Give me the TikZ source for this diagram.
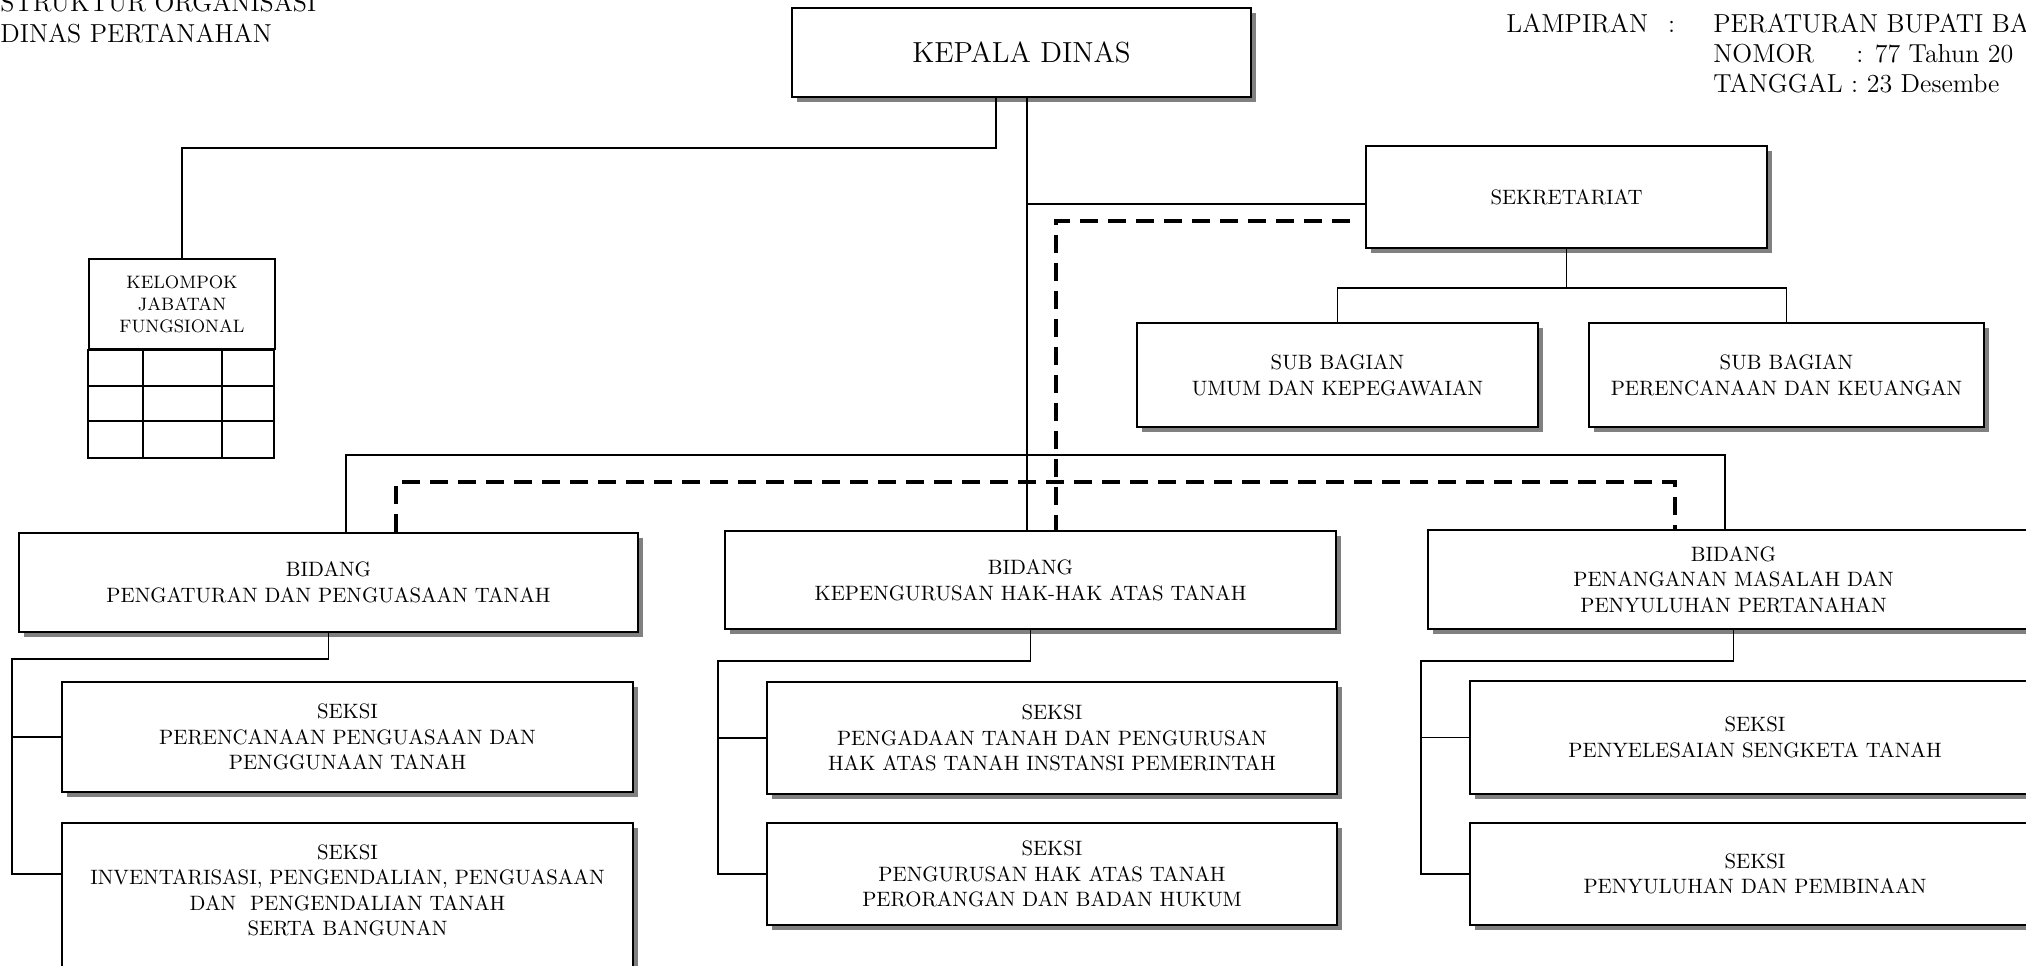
\documentclass[tikz,border=0pt]{standalone}
\usepackage{fontspec}
\usetikzlibrary{shadows}

\begin{document}
\begin{tikzpicture}[x=0.5pt,y=-0.5pt,
  unit/.style={draw,line width=1.1pt,fill=white,align=center,inner sep=2pt,
    font=\fontsize{10.4}{12.8}\selectfont,
    drop shadow={shadow xshift=2.5pt,shadow yshift=-2.5pt,fill=black!50,opacity=1}},
  link/.style={line width=0.9pt},
  koord/.style={line width=1.8pt,dash pattern=on 9pt off 5pt},
  head/.style={anchor=base west,inner sep=0pt,font=\fontsize{13}{15}\selectfont}]
\useasboundingbox (0,0) rectangle (2026,965);

\node[head] (judul1) at (0,11) {STRUKTUR ORGANISASI};
\node[head] (judul2) at (0,42) {DINAS PERTANAHAN};
\node[head] (lamp) at (1506,32) {LAMPIRAN\hspace{10pt}:};
\node[head] (perbup) at (1713,32) {PERATURAN BUPATI BA};
\node[head] (nomor) at (1713,62) {NOMOR};
\node[head] (nomor2) at (1856,62) {: 77 Tahun 20};
\node[head] (tgl) at (1713,92) {TANGGAL : 23 Desembe};

\node[unit,minimum width=229.5pt,minimum height=44.5pt,font=\fontsize{14.5}{17}\selectfont] (kd) at (1021.5,52.5) {KEPALA DINAS};
\node[unit,minimum width=200.5pt,minimum height=51pt] (sek) at (1566.5,197) {SEKRETARIAT};
\node[unit,minimum width=200.5pt,minimum height=52pt] (sbu) at (1337.5,375) {SUB BAGIAN\\UMUM DAN KEPEGAWAIAN};
\node[unit,minimum width=197.5pt,minimum height=52pt] (sbp) at (1786.5,375) {SUB BAGIAN\\PERENCANAAN DAN KEUANGAN};

\node[draw,line width=1.1pt,minimum width=93pt,minimum height=45pt,align=center,inner sep=1pt,
  font=\fontsize{9}{11}\selectfont] (kjf) at (182,304) {KELOMPOK\\JABATAN\\FUNGSIONAL};
\draw[line width=1.1pt] (kjf.south west) rectangle ++(186,108);
\draw[line width=1.1pt] (89,386) -- (275,386) (89,421) -- (275,421)
  (143,349) -- (143,457) (222,349) -- (222,457);

\node[unit,minimum width=309.5pt,minimum height=49.5pt] (b1) at (328.5,582.5) {BIDANG\\PENGATURAN DAN PENGUASAAN TANAH};
\node[unit,minimum width=305.5pt,minimum height=49pt] (b2) at (1030.5,580) {BIDANG\\KEPENGURUSAN HAK-HAK ATAS TANAH};
\node[unit,minimum width=305.5pt,minimum height=49.5pt] (b3) at (1733.5,579.5) {BIDANG\\PENANGANAN MASALAH DAN\\PENYULUHAN PERTANAHAN};

\node[unit,minimum width=285.5pt,minimum height=55pt] (s11) at (347.5,737) {SEKSI\\PERENCANAAN PENGUASAAN DAN\\PENGGUNAAN TANAH};
\node[unit,minimum width=285.5pt,minimum height=80pt] (s12) at (347.5,903) {SEKSI\\INVENTARISASI, PENGENDALIAN, PENGUASAAN\\DAN\ \ PENGENDALIAN TANAH\\SERTA BANGUNAN\\~};
\node[unit,minimum width=285pt,minimum height=56pt] (s21) at (1052,738) {SEKSI\\PENGADAAN TANAH DAN PENGURUSAN\\HAK ATAS TANAH INSTANSI PEMERINTAH};
\node[unit,minimum width=285pt,minimum height=51pt] (s22) at (1052,874) {SEKSI\\PENGURUSAN HAK ATAS TANAH\\PERORANGAN DAN BADAN HUKUM};
\node[unit,minimum width=285pt,minimum height=56.5pt] (s31) at (1755,737.5) {SEKSI\\PENYELESAIAN SENGKETA TANAH};
\node[unit,minimum width=285pt,minimum height=51pt] (s32) at (1755,874) {SEKSI\\PENYULUHAN DAN PEMBINAAN};

\coordinate (trunk) at (1027,0);
\draw[link] ([xshift=-12.75pt]kd.south) -- ++(0,50) -| (kjf.north);
\draw[link] (kd.south -| trunk) -- (b2.north -| trunk);
\draw[link] ([yshift=-3.5pt]sek.west) -- ++(-339,0);
\draw[koord] ([yshift=-12pt]sek.west) ++(-15,0) -| ([xshift=12.75pt]b2.north);
\draw[link] (sbu.north) |- ([yshift=-19.5pt]sek.south) -| (sbp.north) (sek.south) -- ++(0,39);

\draw[link] ([xshift=8.75pt]b1.north) -- ++(0,-77) -| ([xshift=-4.25pt]b3.north);
\draw[koord] ([xshift=33.75pt]b1.north) -- ++(0,-50) -| ([xshift=-29.25pt]b3.north);

\draw[link] (b1.south) -- ++(0,26) -| ([xshift=-24.5pt,yshift=-26pt]s12.north west) -- ([yshift=-26pt]s12.north west);
\draw[link] (s11.west) -- ++(-49,0);
\draw[link] (b2.south) -- ++(0,31) -| ([xshift=-24pt]s22.west) -- (s22.west);
\draw[link] (s21.west) -- ++(-48,0);
\draw[link] (b3.south) -- ++(0,31) -| ([xshift=-24pt]s32.west) -- (s32.west);
\draw[link] (s31.west) -- ++(-48,0);
\end{tikzpicture}
\end{document}
